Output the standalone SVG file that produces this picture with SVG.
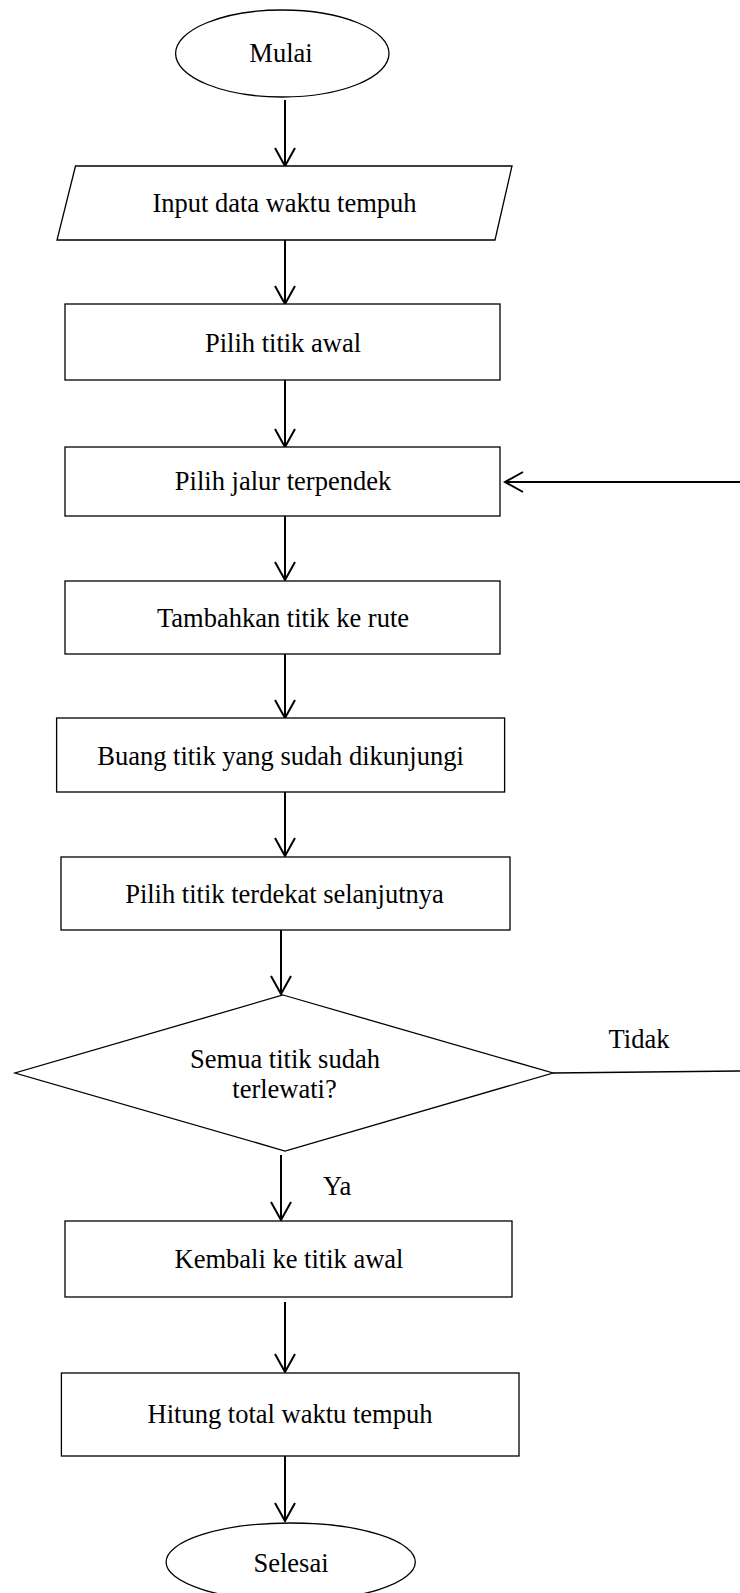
<svg xmlns="http://www.w3.org/2000/svg" width="740" height="1593" viewBox="0 0 740 1593">
<style>
.shape{fill:#fff;stroke:#000;stroke-width:1.3}
.lbl{font-family:"Liberation Serif","Times New Roman",serif;font-size:26.5px;fill:#000;text-anchor:middle}
.lbl-start{font-family:"Liberation Serif","Times New Roman",serif;font-size:26.5px;fill:#000;text-anchor:start}
.conn{fill:none;stroke:#000;stroke-width:2}
</style>
<defs>
<marker id="arrow" markerUnits="userSpaceOnUse" markerWidth="22" markerHeight="24" refX="20" refY="11" orient="auto">
<path d="M2,1 L20,11 L2,21" fill="none" stroke="#000" stroke-width="2"/>
</marker>
</defs>
<rect width="740" height="1593" fill="#fff"/>
<g id="connectors">
<line class="conn" x1="285" y1="100" x2="285" y2="166" marker-end="url(#arrow)"/>
<line class="conn" x1="285" y1="240" x2="285" y2="304" marker-end="url(#arrow)"/>
<line class="conn" x1="285" y1="380" x2="285" y2="447" marker-end="url(#arrow)"/>
<line class="conn" x1="285" y1="516" x2="285" y2="580" marker-end="url(#arrow)"/>
<line class="conn" x1="285" y1="652" x2="285" y2="718" marker-end="url(#arrow)"/>
<line class="conn" x1="285" y1="792" x2="285" y2="856" marker-end="url(#arrow)"/>
<line class="conn" x1="281" y1="930" x2="281" y2="994" marker-end="url(#arrow)"/>
<line class="conn" x1="281" y1="1155" x2="281" y2="1220" marker-end="url(#arrow)"/>
<line class="conn" x1="285" y1="1302" x2="285" y2="1372" marker-end="url(#arrow)"/>
<line class="conn" x1="285" y1="1453" x2="285" y2="1521" marker-end="url(#arrow)"/>
<line class="conn" x1="553" y1="1073" x2="740" y2="1071" style="stroke-width:1.5"/>
<line class="conn" x1="740" y1="482" x2="505" y2="482" marker-end="url(#arrow)"/>
<text class="lbl" x="639" y="1048">Tidak</text>
<text class="lbl-start" x="323" y="1195">Ya</text>
</g>
<g id="mulai">
<ellipse class="shape" cx="282.3" cy="53.5" rx="106.7" ry="43.5"/>
<text class="lbl" x="281" y="62">Mulai</text>
</g>
<g id="input">
<polygon class="shape" points="75.5,166 512,166 495,240 57,240"/>
<text class="lbl" x="284.5" y="212">Input data waktu tempuh</text>
</g>
<g id="pilih-awal">
<rect class="shape" x="65" y="304" width="435" height="76"/>
<text class="lbl" x="283" y="352">Pilih titik awal</text>
</g>
<g id="pilih-jalur">
<rect class="shape" x="65" y="447" width="435" height="69"/>
<text class="lbl" x="283" y="490">Pilih jalur terpendek</text>
</g>
<g id="tambahkan">
<rect class="shape" x="65" y="581" width="435" height="73"/>
<text class="lbl" x="283" y="627">Tambahkan titik ke rute</text>
</g>
<g id="buang">
<rect class="shape" x="56.6" y="718" width="448" height="74"/>
<text class="lbl" x="280.5" y="765">Buang titik yang sudah dikunjungi</text>
</g>
<g id="pilih-terdekat">
<rect class="shape" x="61" y="857" width="449" height="73"/>
<text class="lbl" x="284.5" y="903">Pilih titik terdekat selanjutnya</text>
</g>
<g id="keputusan">
<polygon class="shape" points="283,995 553,1073 285,1151 15,1073"/>
<text class="lbl" x="285" y="1068">Semua titik sudah</text>
<text class="lbl" x="284.5" y="1098">terlewati?</text>
</g>
<g id="kembali">
<rect class="shape" x="65" y="1221" width="447" height="76"/>
<text class="lbl" x="289" y="1268">Kembali ke titik awal</text>
</g>
<g id="hitung">
<rect class="shape" x="61.4" y="1373" width="457.6" height="83"/>
<text class="lbl" x="290" y="1423">Hitung total waktu tempuh</text>
</g>
<g id="selesai">
<ellipse class="shape" cx="290.7" cy="1562" rx="124.6" ry="39"/>
<text class="lbl" x="291" y="1572">Selesai</text>
</g>
</svg>
